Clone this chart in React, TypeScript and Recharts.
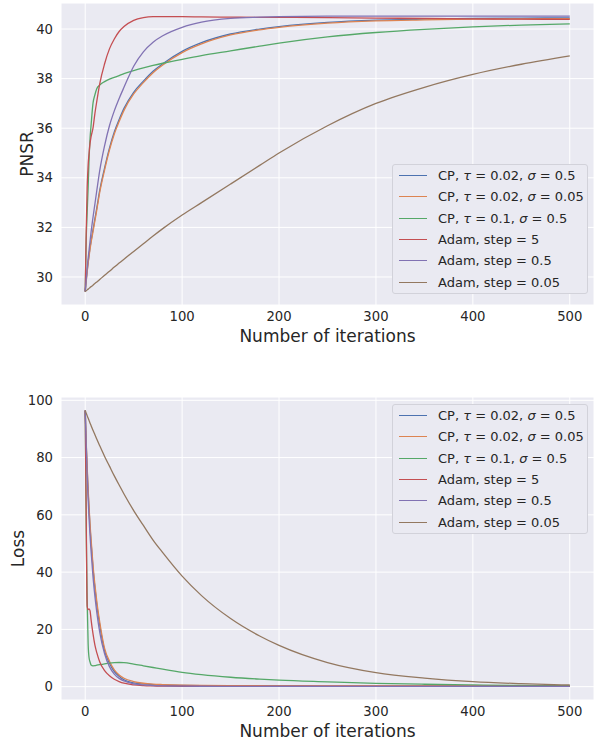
import React from 'react';
import { LineChart, Line, XAxis, YAxis, CartesianGrid, Legend } from 'recharts';

const FONT = '"DejaVu Sans", "Liberation Sans", sans-serif';
const TEXT = '#262626';
const BG = '#EAEAF2';

// iteration numbers at which the curves were sampled
const ITERS = [0, 1, 2, 3, 4, 5, 6, 8, 10, 12, 15, 20, 25, 30, 35, 40, 50, 60, 70, 80, 100, 120, 150, 180, 200, 250, 300, 350, 400, 450, 500];

const SERIES_NAMES = [
  'CP, τ = 0.02, σ = 0.5',
  'CP, τ = 0.02, σ = 0.05',
  'CP, τ = 0.1, σ = 0.5',
  'Adam, step = 5',
  'Adam, step = 0.5',
  'Adam, step = 0.05',
];
const SERIES_COLORS = ['#4C72B0', '#DD8452', '#55A868', '#C44E52', '#8172B3', '#937860'];

// PNSR curves
const PNSR_CP1 = [29.41, 29.85, 30.25, 30.6, 30.9, 31.2, 31.45, 31.9, 32.35, 32.8, 33.5, 34.4, 35.2, 35.85, 36.35, 36.8, 37.45, 37.9, 38.3, 38.6, 39.1, 39.45, 39.8, 40.0, 40.1, 40.27, 40.36, 40.4, 40.43, 40.44, 40.45];
const PNSR_CP2 = [29.41, 29.82, 30.2, 30.55, 30.85, 31.13, 31.38, 31.82, 32.27, 32.72, 33.42, 34.32, 35.12, 35.77, 36.27, 36.72, 37.38, 37.84, 38.24, 38.55, 39.05, 39.4, 39.76, 39.97, 40.07, 40.24, 40.33, 40.37, 40.4, 40.41, 40.42];
const PNSR_CP3 = [29.41, 31.5, 32.6, 33.6, 34.8, 35.6, 36.1, 37.0, 37.35, 37.6, 37.74, 37.88, 37.98, 38.05, 38.12, 38.2, 38.32, 38.43, 38.53, 38.62, 38.78, 38.93, 39.12, 39.31, 39.43, 39.68, 39.86, 39.99, 40.09, 40.16, 40.21];
const PNSR_ADAM5 = [29.41, 31.8, 33.6, 34.5, 35.0, 35.4, 35.65, 36.0, 36.6, 37.1, 37.8, 38.6, 39.2, 39.6, 39.9, 40.1, 40.35, 40.46, 40.5, 40.5, 40.5, 40.49, 40.48, 40.47, 40.47, 40.46, 40.44, 40.43, 40.41, 40.4, 40.39];
const PNSR_ADAM05 = [29.41, 29.9, 30.35, 30.75, 31.1, 31.45, 31.8, 32.4, 32.95, 33.5, 34.3, 35.3, 36.1, 36.7, 37.2, 37.65, 38.5, 39.08, 39.47, 39.73, 40.07, 40.28, 40.43, 40.48, 40.5, 40.52, 40.52, 40.52, 40.52, 40.52, 40.52];
const PNSR_ADAM005 = [29.41, 29.44, 29.48, 29.51, 29.54, 29.58, 29.61, 29.67, 29.74, 29.8, 29.9, 30.07, 30.23, 30.4, 30.56, 30.72, 31.03, 31.34, 31.65, 31.95, 32.5, 33.0, 33.75, 34.5, 35.0, 36.1, 37.0, 37.65, 38.17, 38.58, 38.92];

// Loss curves
const LOSS_CP1 = [96.4, 85, 76, 68, 61.5, 55.5, 50.5, 41.5, 34.5, 28.5, 21.5, 12.5, 8.2, 5.3, 3.6, 2.4, 1.35, 0.95, 0.72, 0.58, 0.44, 0.37, 0.3, 0.27, 0.25, 0.22, 0.2, 0.19, 0.19, 0.18, 0.18];
const LOSS_CP2 = [96.4, 85.5, 76.8, 69, 62.5, 56.6, 51.6, 42.6, 35.6, 29.6, 22.5, 13.4, 8.9, 5.9, 4.1, 2.95, 1.8, 1.2, 0.9, 0.75, 0.55, 0.45, 0.37, 0.33, 0.3, 0.27, 0.25, 0.24, 0.23, 0.22, 0.22];
const LOSS_CP3 = [96.4, 55, 30, 15, 10, 8.6, 7.6, 7.3, 7.35, 7.5, 7.7, 8.0, 8.25, 8.4, 8.45, 8.4, 7.9, 7.3, 6.7, 6.1, 5.0, 4.2, 3.3, 2.65, 2.3, 1.7, 1.15, 0.85, 0.6, 0.45, 0.35];
const LOSS_ADAM5 = [96.4, 60, 28, 26.9, 27.2, 26.5, 23.5, 18.5, 14.5, 11.8, 8.6, 5.6, 3.8, 2.6, 1.8, 1.2, 0.6, 0.35, 0.25, 0.2, 0.15, 0.13, 0.12, 0.11, 0.1, 0.1, 0.1, 0.1, 0.1, 0.1, 0.1];
const LOSS_ADAM05 = [96.4, 84, 74, 65.5, 58.5, 52.5, 47.5, 38.5, 31.5, 25.8, 19, 11.5, 7, 4.4, 2.9, 2, 1, 0.6, 0.4, 0.3, 0.2, 0.15, 0.12, 0.11, 0.1, 0.1, 0.1, 0.1, 0.1, 0.1, 0.1];
const LOSS_ADAM005 = [96.4, 95.5, 94.6, 93.8, 92.9, 92.0, 91.2, 89.5, 88, 86.4, 84.1, 80.4, 77, 73.6, 70.4, 67.3, 61.5, 56.3, 51.2, 46.8, 38.6, 31.8, 23.8, 17.7, 14.4, 8.4, 4.9, 3.0, 1.75, 1.05, 0.6];

const X_TICKS = [0, 100, 200, 300, 400, 500];
const PNSR_TICKS = [30, 32, 34, 36, 38, 40];
const LOSS_TICKS = [0, 20, 40, 60, 80, 100];

const KEYS = ['s0', 's1', 's2', 's3', 's4', 's5'];

function buildRows(series: number[][]) {
  return ITERS.map((it, i) => {
    const row: Record<string, number> = { iter: it };
    series.forEach((s, k) => {
      row[KEYS[k]] = s[i];
    });
    return row;
  });
}

const PNSR_ROWS = buildRows([PNSR_CP1, PNSR_CP2, PNSR_CP3, PNSR_ADAM5, PNSR_ADAM05, PNSR_ADAM005]);
const LOSS_ROWS = buildRows([LOSS_CP1, LOSS_CP2, LOSS_CP3, LOSS_ADAM5, LOSS_ADAM05, LOSS_ADAM005]);

function renderName(s: string) {
  const parts = s.split(/([τσ])/);
  return parts.map((p, i) =>
    p === 'τ' || p === 'σ' ? (
      <i key={i} style={{ fontStyle: 'italic' }}>{p}</i>
    ) : (
      <span key={i}>{p}</span>
    )
  );
}

const LegendBox = () => {
  return (
    <div
      style={{
        boxSizing: 'border-box',
        width: 196,
        background: BG,
        border: '1px solid #D2D2DA',
        borderRadius: 3,
        padding: '0px 4px 0px 6px',
        fontFamily: FONT,
        fontSize: 13,
        color: TEXT,
      }}
    >
      {SERIES_NAMES.map((name, i) => (
        <div key={i} style={{ display: 'flex', alignItems: 'center', height: 21.3, whiteSpace: 'nowrap' }}>
          <span
            style={{
              display: 'inline-block',
              width: 28,
              height: 0,
              borderTop: `1.5px solid ${SERIES_COLORS[i]}`,
              marginRight: 11,
              flex: '0 0 auto',
            }}
          />
          <span>{renderName(name)}</span>
        </div>
      ))}
    </div>
  );
};

const yLabel = (text: string, cx: number) => (p: any) => {
  const vb = p.viewBox || {};
  const x = (vb.x || 0) + cx;
  const y = (vb.y || 0) + (vb.height || 0) / 2;
  return (
    <text
      x={x}
      y={y}
      transform={`rotate(-90 ${x} ${y})`}
      textAnchor="middle"
      dominantBaseline="central"
      fill={TEXT}
      fontSize={17}
      fontFamily={FONT}
    >
      {text}
    </text>
  );
};

const tickStyle = { fill: TEXT, fontSize: 13.2, fontFamily: FONT };

function Panel(props: {
  rows: any[];
  top: number;
  height: number;
  marginTop: number;
  yDomain: [number, number];
  yTicks: number[];
  yTitle: string;
  yTitleX: number;
  legendTop: number;
}) {
  const { rows, top, height, marginTop, yDomain, yTicks, yTitle, yTitleX, legendTop } = props;
  return (
    <div style={{ position: 'absolute', left: 0, top, width: 595, height }}>
      <LineChart width={595} height={height} data={rows} margin={{ top: marginTop, right: 1, left: 0, bottom: 0 }}>
        <CartesianGrid fill={BG} stroke="#FFFFFF" strokeWidth={1} />
        <XAxis
          dataKey="iter"
          type="number"
          domain={[-25, 525]}
          ticks={X_TICKS}
          allowDataOverflow
          axisLine={false}
          tickLine={false}
          tickSize={0}
          tickMargin={7}
          height={40}
          tick={tickStyle}
          label={{ value: 'Number of iterations', position: 'insideBottom', offset: 3, fill: TEXT, fontSize: 17, fontFamily: FONT }}
        />
        <YAxis
          type="number"
          domain={yDomain}
          ticks={yTicks}
          allowDataOverflow
          axisLine={false}
          tickLine={false}
          tickSize={0}
          tickMargin={8}
          width={61}
          tick={tickStyle}
          label={yLabel(yTitle, yTitleX)}
        />
        <Legend
          layout="vertical"
          align="center"
          verticalAlign="middle"
          content={<LegendBox />}
          wrapperStyle={{ left: 392, top: legendTop, width: 196, height: 'auto' }}
        />
        {KEYS.map((k, i) => (
          <Line
            key={k}
            type="monotone"
            dataKey={k}
            name={SERIES_NAMES[i]}
            stroke={SERIES_COLORS[i]}
            strokeWidth={1.3}
            dot={false}
            activeDot={false}
            isAnimationActive={false}
          />
        ))}
      </LineChart>
    </div>
  );
}

export default function App() {
  return (
    <div style={{ position: 'absolute', left: 0, top: 0, width: 595, height: 742, background: '#FFFFFF', overflow: 'hidden' }}>
      <Panel
        rows={PNSR_ROWS}
        top={0}
        height={345}
        marginTop={3}
        yDomain={[28.87, 41.05]}
        yTicks={PNSR_TICKS}
        yTitle="PNSR"
        yTitleX={27}
        legendTop={164}
      />
      <Panel
        rows={LOSS_ROWS}
        top={390}
        height={350}
        marginTop={7}
        yDomain={[-4.65, 101.15]}
        yTicks={LOSS_TICKS}
        yTitle="Loss"
        yTitleX={18}
        legendTop={14}
      />
    </div>
  );
}
